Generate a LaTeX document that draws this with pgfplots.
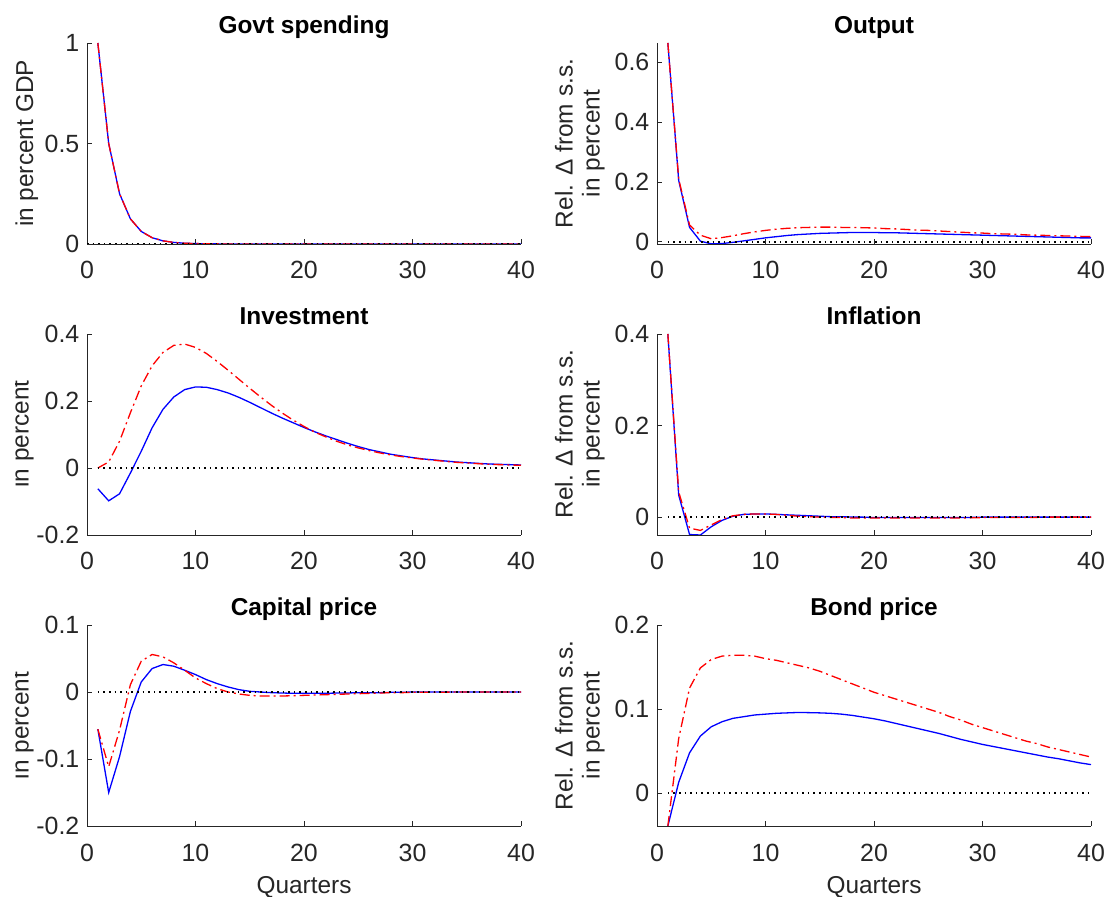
\documentclass[border=0pt]{standalone}
\usepackage{fontspec}
\setmainfont{Liberation Sans}
\usepackage{pgfplots}
\pgfplotsset{compat=1.18}
\usepackage{pgfplotstable}
\definecolor{axgray}{rgb}{0.15,0.15,0.15}
\newcommand{\fs}{\fontsize{24.5}{28}\selectfont}
\newcommand{\ft}{\fontsize{25}{28}\selectfont}

\pgfplotstableread{
t b r
1 1 1
2 0.5 0.5
3 0.25 0.25
4 0.125 0.125
5 0.0625 0.0625
6 0.0313 0.0313
7 0.0156 0.0156
8 0.0078 0.0078
9 0.0039 0.0039
10 0.002 0.002
11 0.001 0.001
12 0.0005 0.0005
13 0.0002 0.0002
14 0.0001 0.0001
15 0 0
20 0 0
25 0 0
30 0 0
35 0 0
40 0 0
}\govt

\pgfplotstableread{
t b r
1 0.665 0.665
2 0.205 0.210
3 0.048 0.056
4 0.002 0.022
5 -0.007 0.010
6 -0.006 0.014
7 -0.002 0.020
8 0.003 0.027
9 0.008 0.033
10 0.013 0.038
11 0.017 0.042
12 0.021 0.045
13 0.024 0.047
14 0.026 0.048
15 0.028 0.049
16 0.029 0.049
17 0.030 0.048
18 0.031 0.048
19 0.031 0.047
20 0.031 0.046
21 0.030 0.044
22 0.030 0.043
23 0.029 0.041
24 0.028 0.039
25 0.027 0.038
26 0.026 0.036
27 0.025 0.034
28 0.024 0.032
29 0.023 0.030
30 0.022 0.029
31 0.021 0.027
32 0.020 0.026
33 0.019 0.025
34 0.018 0.023
35 0.017 0.022
36 0.016 0.021
37 0.015 0.020
38 0.014 0.019
39 0.013 0.018
40 0.013 0.017
}\outp

\pgfplotstableread{
t b r
1 -0.062 0.000
2 -0.098 0.018
3 -0.077 0.080
4 -0.015 0.165
5 0.050 0.245
6 0.120 0.305
7 0.175 0.345
8 0.212 0.366
9 0.234 0.370
10 0.242 0.360
11 0.241 0.342
12 0.234 0.318
13 0.224 0.292
14 0.211 0.265
15 0.196 0.238
16 0.180 0.212
17 0.164 0.187
18 0.149 0.164
19 0.135 0.143
20 0.121 0.124
21 0.108 0.107
22 0.096 0.093
23 0.085 0.080
24 0.074 0.069
25 0.064 0.060
26 0.055 0.052
27 0.048 0.045
28 0.041 0.039
29 0.036 0.034
30 0.031 0.030
31 0.027 0.026
32 0.024 0.023
33 0.021 0.020
34 0.018 0.017
35 0.016 0.015
36 0.014 0.013
37 0.012 0.011
38 0.011 0.010
39 0.010 0.009
40 0.009 0.008
}\inv

\pgfplotstableread{
t b r
1 0.400 0.400
2 0.048 0.055
3 -0.038 -0.024
4 -0.039 -0.029
5 -0.021 -0.017
6 -0.007 -0.005
7 0.002 0.003
8 0.006 0.006
9 0.007 0.007
10 0.007 0.007
11 0.006 0.006
12 0.005 0.004
13 0.004 0.002
14 0.003 0.001
15 0.002 0.000
16 0.001 -0.001
17 0.001 -0.001
18 0.000 -0.002
19 0.000 -0.002
20 -0.001 -0.002
22 -0.001 -0.002
24 -0.001 -0.002
26 -0.001 -0.002
28 -0.001 -0.002
30 0.000 -0.001
32 0.000 -0.001
34 0.000 -0.001
36 0.000 0.000
38 0.000 0.000
40 0.000 0.000
}\infl

\pgfplotstableread{
t b r
1 -0.0555 -0.0555
2 -0.150 -0.1115
3 -0.0965 -0.057
4 -0.029 0.011
5 0.015 0.046
6 0.035 0.056
7 0.041 0.0525
8 0.0385 0.0435
9 0.0325 0.0325
10 0.026 0.021
11 0.0185 0.0125
12 0.0125 0.005
13 0.0075 0.000
14 0.0035 -0.003
15 0.001 -0.005
16 0.000 -0.006
17 -0.001 -0.006
18 -0.0015 -0.006
19 -0.002 -0.0055
20 -0.002 -0.005
21 -0.002 -0.0045
22 -0.002 -0.004
23 -0.0015 -0.0035
24 -0.0015 -0.003
25 -0.001 -0.0025
26 -0.001 -0.002
27 -0.001 -0.0015
28 -0.0005 -0.001
29 -0.0005 -0.001
30 0 -0.0005
32 0 -0.0005
34 0 0
36 0 0
38 0 0
40 0 0
}\capp

\pgfplotstableread{
t b r
1 -0.039 -0.039
2 0.013 0.065
3 0.048 0.125
4 0.068 0.149
5 0.079 0.159
6 0.085 0.163
7 0.089 0.164
8 0.091 0.164
9 0.093 0.163
10 0.094 0.160
11 0.095 0.158
12 0.0955 0.155
13 0.096 0.152
14 0.0958 0.149
15 0.0955 0.145
16 0.095 0.140
17 0.094 0.135
18 0.0925 0.130
19 0.0905 0.125
20 0.0885 0.120
21 0.086 0.116
22 0.083 0.112
23 0.080 0.108
24 0.077 0.104
25 0.074 0.100
26 0.071 0.096
27 0.0675 0.091
28 0.064 0.087
29 0.061 0.082
30 0.058 0.078
31 0.0555 0.074
32 0.053 0.070
33 0.0505 0.066
34 0.048 0.062
35 0.0455 0.059
36 0.043 0.055
37 0.041 0.052
38 0.0385 0.049
39 0.036 0.046
40 0.034 0.043
}\bond

\pgfplotsset{
  irf/.style={
    scale only axis, width=434bp, height=201bp,
    anchor=south west,
    xmin=0, xmax=40, xtick={0,10,20,30,40}, xticklabels={0,10,20,30,40},
    axis lines*=left,
    axis line style={draw=axgray, line width=0.9bp, -},
    tick align=inside, major tick length=4.5bp,
    tick style={draw=axgray, line width=0.9bp},
    minor tick num=0,
    tick label style={font=\ft, text=axgray, inner sep=0pt},
    xticklabel style={anchor=base, yshift=-35bp},
    yticklabel style={anchor=east, xshift=-7.5bp},
    every axis title shift=0pt,
    title style={font=\fs\bfseries, at={(0.5,1)}, anchor=base, yshift=9.5bp, inner sep=0pt},
    xlabel style={font=\fs, text=axgray, at={(axis description cs:0.5,0)}, anchor=base, yshift=-67bp, inner sep=0pt},
  },
  bl/.style={blue, line width=1.3bp},
  rd/.style={red, line width=1.3bp, dash pattern=on 10bp off 4bp on 2bp off 4bp},
  zl/.style={black, line width=1.6bp, dash pattern=on 1.6bp off 4bp},
}

\begin{document}
\begin{tikzpicture}
% Govt spending
\begin{axis}[irf, at={(87bp,653bp)}, ymin=0, ymax=1, ytick={0,0.5,1}, yticklabels={0,0.5,1}, title={Govt spending}]
\addplot[bl] table[x=t,y=b]{\govt};
\addplot[rd] table[x=t,y=r]{\govt};
\addplot[zl] coordinates {(0,0) (40,0)};
\end{axis}
% Output
\begin{axis}[irf, at={(657bp,653bp)}, ymin=-0.0075, ymax=0.665, ytick={0,0.2,0.4,0.6}, yticklabels={0,0.2,0.4,0.6}, title={Output}]
\addplot[bl] table[x=t,y=b]{\outp};
\addplot[rd] table[x=t,y=r]{\outp};
\addplot[zl] coordinates {(1,0) (40,0)};
\end{axis}
% Investment
\begin{axis}[irf, at={(87bp,362bp)}, ymin=-0.2, ymax=0.4, ytick={-0.2,0,0.2,0.4}, yticklabels={-0.2,0,0.2,0.4}, title={Investment}]
\addplot[bl] table[x=t,y=b]{\inv};
\addplot[rd] table[x=t,y=r]{\inv};
\addplot[zl] coordinates {(1,0) (40,0)};
\end{axis}
% Inflation
\begin{axis}[irf, at={(657bp,362bp)}, ymin=-0.039, ymax=0.4, ytick={0,0.2,0.4}, yticklabels={0,0.2,0.4}, title={Inflation}]
\addplot[bl] table[x=t,y=b]{\infl};
\addplot[rd] table[x=t,y=r]{\infl};
\addplot[zl] coordinates {(1,0) (40,0)};
\end{axis}
% Capital price
\begin{axis}[irf, at={(87bp,71bp)}, ymin=-0.2, ymax=0.1, ytick={-0.2,-0.1,0,0.1}, yticklabels={-0.2,-0.1,0,0.1}, title={Capital price}, xlabel={Quarters}]
\addplot[bl] table[x=t,y=b]{\capp};
\addplot[rd] table[x=t,y=r]{\capp};
\addplot[zl] coordinates {(1,0) (40,0)};
\end{axis}
% Bond price
\begin{axis}[irf, at={(657bp,71bp)}, ymin=-0.039, ymax=0.2, ytick={0,0.1,0.2}, yticklabels={0,0.1,0.2}, title={Bond price}, xlabel={Quarters}]
\addplot[bl] table[x=t,y=b]{\bond};
\addplot[rd] table[x=t,y=r]{\bond};
\addplot[zl] coordinates {(1,0) (40,0)};
\end{axis}

% y labels
\tikzset{yl/.style={rotate=90, anchor=base, font=\fs, text=axgray, inner sep=0pt}}
\node[yl] at (33bp,753.5bp) {in percent GDP};
\begin{scope}
\clip (15bp,0bp) rectangle (60bp,897bp);
\node[yl] at (28.5bp,463bp) {in percent};
\node[yl] at (28.5bp,171.5bp) {in percent};
\end{scope}
\foreach \yy in {753.5,463,171.5}{
  \node[yl] at (572.5bp,\yy bp) {Rel. Δ from s.s.};
  \node[yl] at (599.5bp,\yy bp) {in percent};
}

\pgfresetboundingbox
\path[use as bounding box] (0bp,0bp) rectangle (1110bp,897bp);
\end{tikzpicture}
\end{document}
